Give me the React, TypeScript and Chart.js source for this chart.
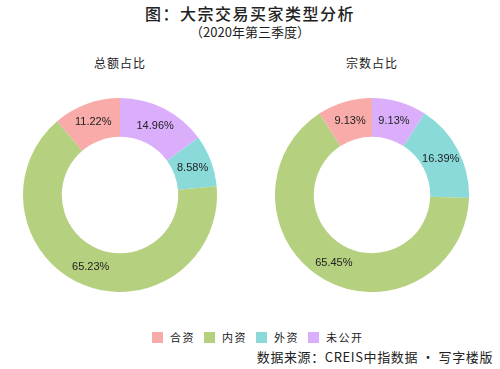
import React, { useEffect, useRef } from "react";
import { Chart, registerables } from "chart.js";

Chart.register(...registerables);

const TITLE = "图：大宗交易买家类型分析";
const SUBTITLE = "（2020年第三季度）";
const SOURCE = "数据来源：CREIS中指数据 · 写字楼版";

const categories = ["合资", "内资", "外资", "未公开"];
const colors = ["#F8ABA8", "#B5D07F", "#8ADADA", "#DBAEFB"];
const amountShare = [11.22, 65.23, 8.58, 14.96];
const countShare = [9.13, 65.45, 16.39, 9.13];
const panelTitles = ["总额占比", "宗数占比"];

const CJK = '"Noto Sans CJK SC", "Noto Sans", sans-serif';

const pctLabels = {
  id: "pctLabels",
  afterDatasetsDraw(chart: any) {
    const ctx = chart.ctx;
    const meta = chart.getDatasetMeta(0);
    const data = chart.data.datasets[0].data as number[];
    ctx.save();
    ctx.fillStyle = "#222";
    ctx.font = '11px "Liberation Sans", Arial, sans-serif';
    ctx.textAlign = "center";
    ctx.textBaseline = "middle";
    meta.data.forEach((arc: any, i: number) => {
      const p = arc.getProps(["x", "y", "startAngle", "endAngle", "innerRadius", "outerRadius"], true);
      const a = (p.startAngle + p.endAngle) / 2;
      const r = (p.innerRadius + p.outerRadius) / 2;
      ctx.fillText(data[i].toFixed(2) + "%", p.x + Math.cos(a) * r, p.y + Math.sin(a) * r);
    });
    ctx.restore();
  },
};

function Donut({ values, left }: { values: number[]; left: number }) {
  const ref = useRef<HTMLCanvasElement>(null);
  useEffect(() => {
    if (!ref.current) return;
    // matplotlib counter-clockwise order -> reverse for Chart.js clockwise drawing
    const chart = new Chart(ref.current, {
      type: "doughnut",
      data: {
        labels: [...categories].reverse(),
        datasets: [
          {
            data: [...values].reverse(),
            backgroundColor: [...colors].reverse(),
            borderWidth: 0,
          },
        ],
      },
      options: {
        responsive: false,
        animation: false,
        cutout: "60%",
        layout: { padding: 0 },
        plugins: { legend: { display: false }, tooltip: { enabled: false } },
      },
      plugins: [pctLabels],
    });
    return () => chart.destroy();
  }, []);
  return (
    <canvas
      ref={ref}
      width={194}
      height={194}
      style={{ position: "absolute", left, top: 98, width: 194, height: 194 }}
    />
  );
}

export default function App() {
  const txt: React.CSSProperties = { position: "absolute", fontFamily: CJK, color: "#222", whiteSpace: "nowrap" };
  return (
    <div style={{ position: "fixed", left: 0, top: 0, width: 500, height: 369, background: "#fff", overflow: "hidden" }}>
      <div style={{ ...txt, left: 0, width: 500, top: 3, textAlign: "center", fontSize: 16, fontWeight: 500, letterSpacing: 1.5, lineHeight: "20px" }}>
        {TITLE}
      </div>
      <div style={{ ...txt, left: 0, width: 500, top: 24, textAlign: "center", fontSize: 13, lineHeight: "16px" }}>
        {SUBTITLE}
      </div>
      <div style={{ ...txt, left: 70, width: 100, top: 55, textAlign: "center", fontSize: 12, letterSpacing: 1, lineHeight: "15px" }}>
        {panelTitles[0]}
      </div>
      <div style={{ ...txt, left: 322, width: 100, top: 55, textAlign: "center", fontSize: 12, letterSpacing: 1, lineHeight: "15px" }}>
        {panelTitles[1]}
      </div>
      <Donut values={amountShare} left={23} />
      <Donut values={countShare} left={275} />
      <div style={{ position: "absolute", left: 152, top: 331, display: "flex", alignItems: "center", height: 12 }}>
        {categories.map((c, i) => (
          <div key={c} style={{ display: "flex", alignItems: "center", marginRight: 9 }}>
            <div style={{ width: 11, height: 11, background: colors[i], marginRight: 7 }} />
            <span style={{ fontFamily: CJK, fontSize: 11, color: "#222", letterSpacing: 1.5, lineHeight: "12px" }}>{c}</span>
          </div>
        ))}
      </div>
      <div style={{ ...txt, right: 7, top: 349, fontSize: 13, letterSpacing: 0.6, lineHeight: "16px" }}>
        {SOURCE}
      </div>
    </div>
  );
}
